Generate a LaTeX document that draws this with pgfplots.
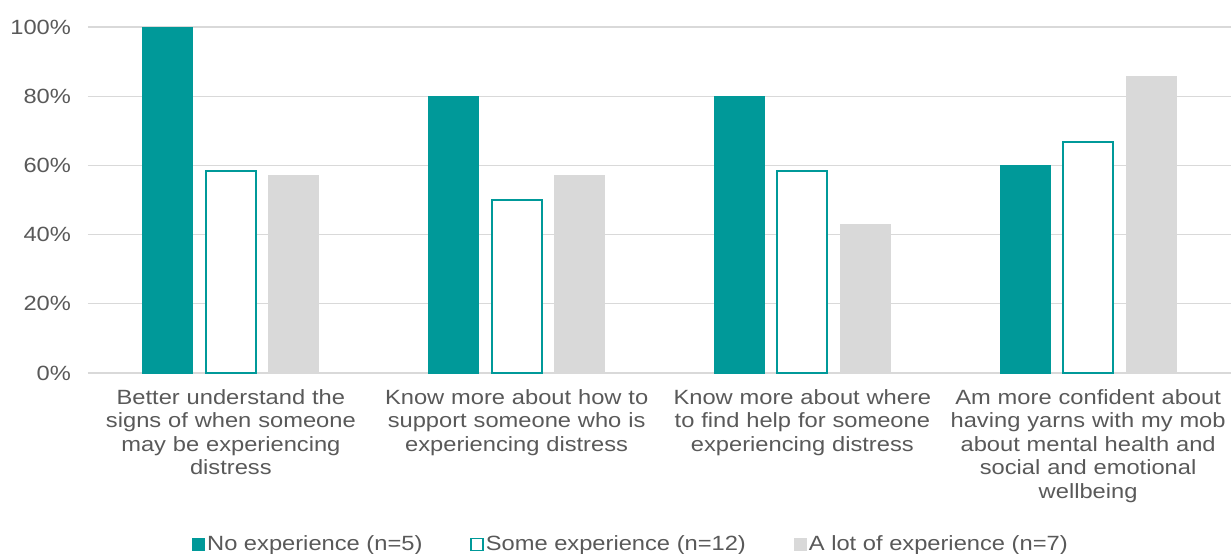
\documentclass[border=0pt]{standalone}
\usepackage{pgfplots}
\pgfplotsset{compat=1.18}
\usepackage{fontspec}
\setmainfont[FakeStretch=1.15]{Liberation Sans}
\definecolor{tealc}{HTML}{009999}
\definecolor{lgrey}{HTML}{D9D9D9}
\definecolor{txt}{HTML}{595959}
\begin{document}
\begin{tikzpicture}
\useasboundingbox (-44pt,-90pt) rectangle (571.5pt,186.5pt);
\begin{axis}[
  at={(0pt,0pt)}, anchor=south west,
  scale only axis, width=571.5pt, height=173pt,
  ymin=0, ymax=100, xmin=-0.5, xmax=3.5,
  ytick={0,20,40,60,80,100},
  yticklabel={\pgfmathprintnumber{\tick}\%},
  xtick={0,1,2,3},
  xticklabels={{Better understand the\\signs of when someone\\may be experiencing\\distress},
               {Know more about how to\\support someone who is\\experiencing distress},
               {Know more about where\\to find help for someone\\experiencing distress},
               {Am more confident about\\having yarns with my mob\\about mental health and\\social and emotional\\wellbeing}},
  xticklabel style={align=center, text width=150pt, font=\fontsize{10.3pt}{11.75pt}\selectfont, text=txt, anchor=north, yshift=-4.5pt},
  yticklabel style={font=\fontsize{10.3pt}{12pt}\selectfont, text=txt, xshift=-5pt},
  /pgf/number format/assume math mode=true,
  major tick length=0pt,
  ymajorgrids, grid style={lgrey, line width=0.6pt},
  axis x line=bottom, axis y line=left,
  y axis line style={draw=none},
  x axis line style={draw=lgrey, line width=0.6pt, -},
  ybar=6.5pt, bar width=25pt,
  legend style={at={(0.475,-0.495)}, anchor=center, draw=none, legend columns=3,
    font=\fontsize{10.3pt}{12pt}\selectfont, text=txt,
    /tikz/every even column/.append style={column sep=23pt},
    /tikz/every odd column/.append style={column sep=0pt},
    nodes={inner xsep=1pt}},
  legend cell align=left,
]
\addplot[fill=tealc, draw=tealc, line width=0.5pt,
  legend image code/.code={\draw[fill=tealc,draw=tealc] (0pt,-3pt) rectangle (6pt,3pt);}]
  coordinates {(0,100) (1,80) (2,80) (3,60)};
\addplot[fill=white, draw=tealc, line width=1pt,
  legend image code/.code={\draw[fill=white,draw=tealc,line width=0.7pt] (0pt,-3pt) rectangle (6pt,3pt);}]
  coordinates {(0,58.3) (1,50) (2,58.3) (3,66.7)};
\addplot[fill=lgrey, draw=lgrey, line width=0.5pt,
  legend image code/.code={\draw[fill=lgrey,draw=lgrey] (0pt,-3pt) rectangle (6pt,3pt);}]
  coordinates {(0,57.1) (1,57.1) (2,42.9) (3,85.7)};
\legend{No experience (n=5), Some experience (n=12), A lot of experience (n=7)}
\end{axis}
\end{tikzpicture}
\end{document}
